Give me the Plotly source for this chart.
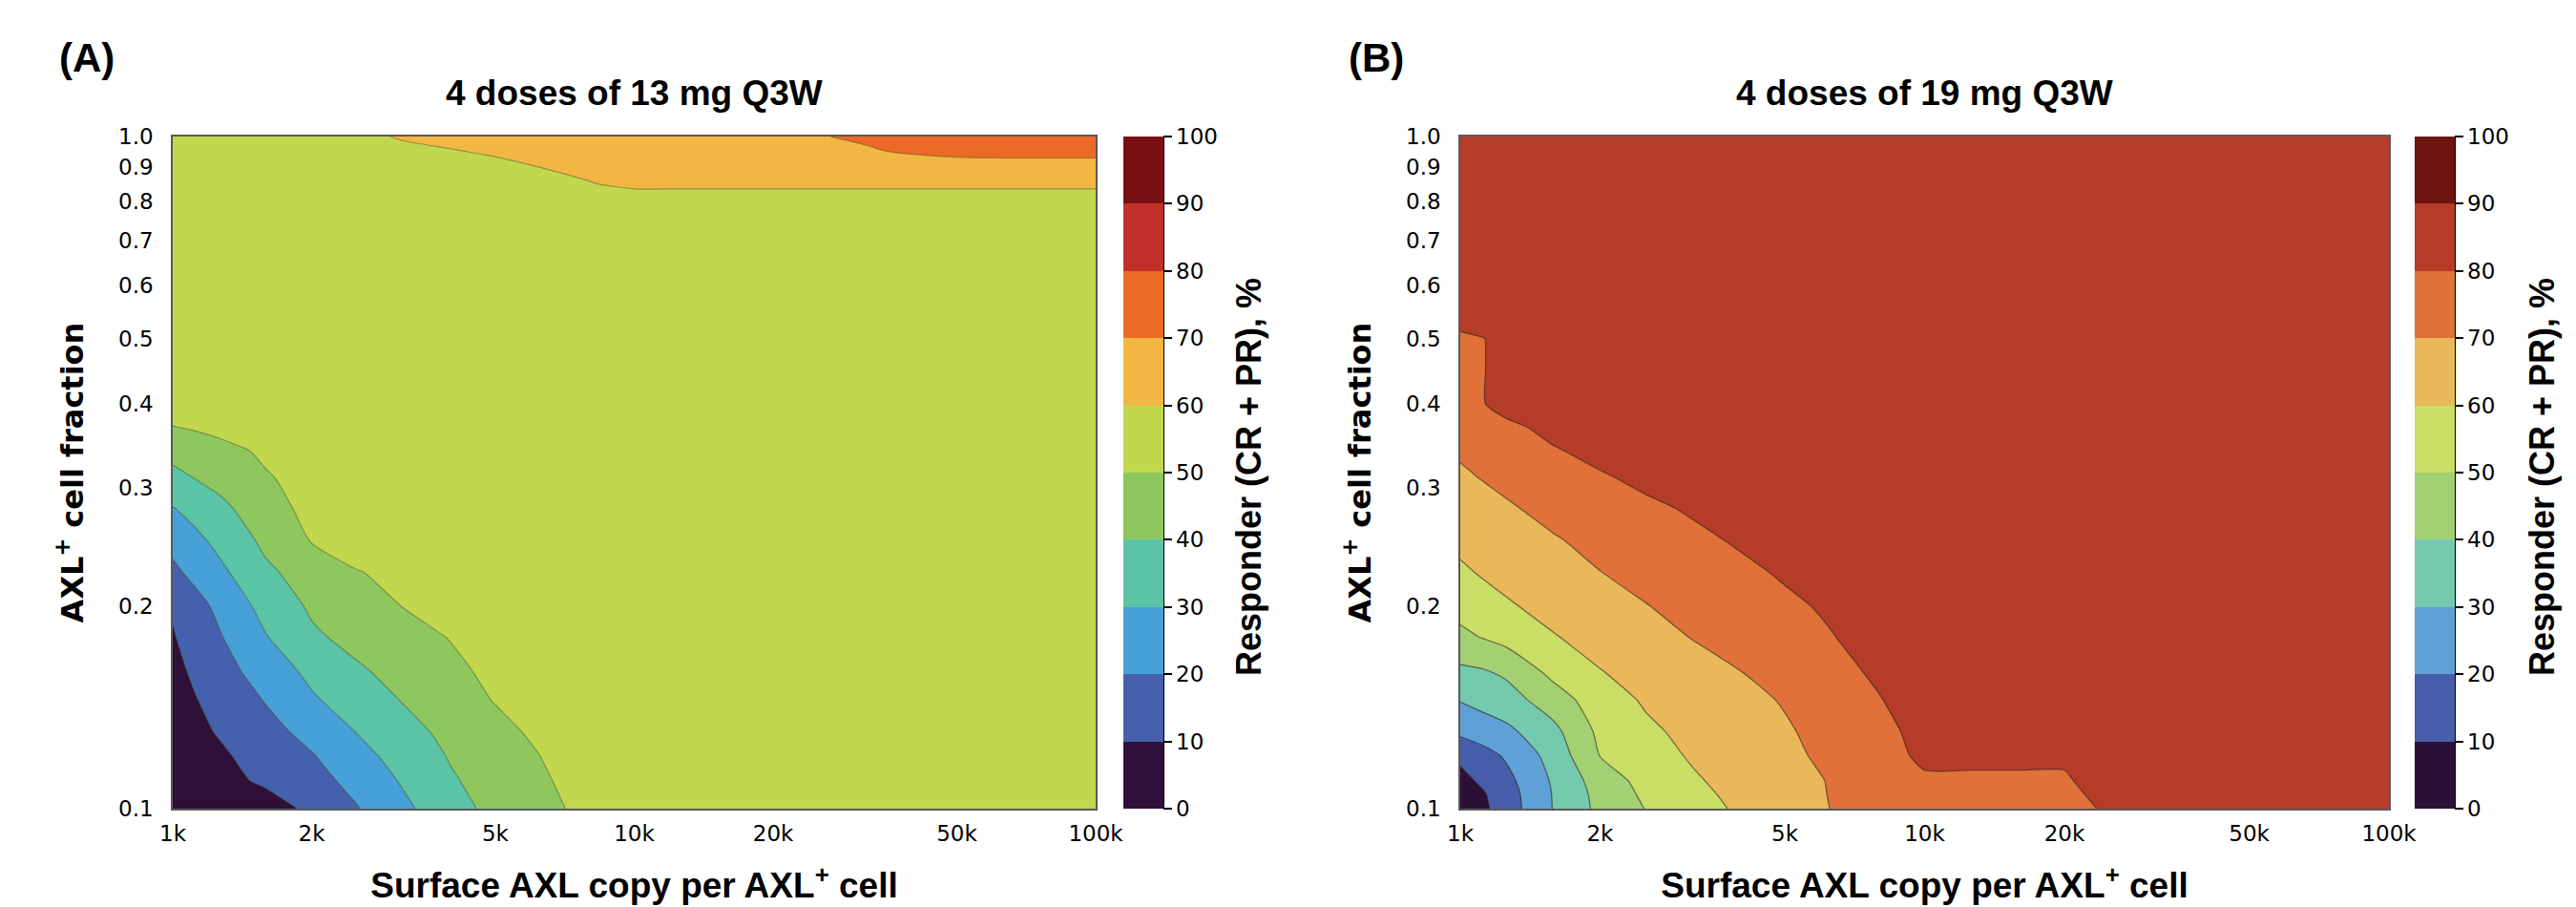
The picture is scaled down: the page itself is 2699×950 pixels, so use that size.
import plotly.graph_objects as go

# ---------------- data ----------------
copies = [1000, 1120, 1260, 1580, 2000, 2510, 3160, 3980, 5010, 6310, 7940,
          10000, 12600, 15800, 20000, 25100, 31600, 39800, 50100, 63100, 100000]

frac_a = [0.1, 0.11, 0.12, 0.13, 0.145, 0.16, 0.18, 0.2, 0.225, 0.25, 0.28,
          0.31, 0.34, 0.37, 0.4, 0.8, 0.85, 0.9, 0.95, 1.0]
resp_a = [
    [1, 2, 3, 5.0, 12.2, 19.5, 27.8, 36.2, 42.7, 47.5, 52.4, 55, 55, 55, 55, 55, 55, 55, 55, 55, 55],
    [1.5, 4.0, 6.6, 11.6, 16.7, 22.8, 31.1, 38.8, 44.1, 48.9, 53.7, 55, 55, 55, 55, 55, 55, 55, 55, 55, 55],
    [3.1, 5.8, 8.5, 13.9, 19.4, 26.8, 34.0, 40.6, 45.4, 50.2, 54.5, 55, 55, 55, 55, 55, 55, 55, 55, 55, 55],
    [4.9, 7.8, 10.7, 16.5, 23.0, 30.3, 36.7, 42.4, 47.2, 52.1, 55, 55, 55, 55, 55, 55, 55, 55, 55, 55, 55],
    [6.1, 9.6, 13.2, 20.3, 28.7, 34.8, 40.5, 45.5, 50.5, 55, 55, 55, 55, 55, 55, 55, 55, 55, 55, 55, 55],
    [7.4, 11.6, 15.8, 24.3, 32.3, 38.6, 43.4, 47.8, 52.2, 55, 55, 55, 55, 55, 55, 55, 55, 55, 55, 55, 55],
    [9.3, 14.2, 19.1, 29.2, 38.4, 43.0, 46.7, 50.3, 54, 55, 55, 55, 55, 55, 55, 55, 55, 55, 55, 55, 55],
    [11.0, 16.6, 22.1, 33.0, 41.4, 45.7, 50.2, 53, 55, 55, 55, 55, 55, 55, 55, 55, 55, 55, 55, 55, 55],
    [17.9, 22.8, 27.7, 38.1, 44.3, 49.6, 52.5, 55, 55, 55, 55, 55, 55, 55, 55, 55, 55, 55, 55, 55, 55],
    [22.8, 27.6, 32.4, 41.8, 50.4, 55, 55, 55, 55, 55, 55, 55, 55, 55, 55, 55, 55, 55, 55, 55, 55],
    [29.6, 33.5, 37.5, 45.7, 52.9, 55, 55, 55, 55, 55, 55, 55, 55, 55, 55, 55, 55, 55, 55, 55, 55],
    [37.0, 40.2, 43.0, 49.1, 53, 55, 55, 55, 55, 55, 55, 55, 55, 55, 55, 55, 55, 55, 55, 55, 55],
    [43, 45.1, 47.1, 51.3, 54, 55, 55, 55, 55, 55, 55, 55, 55, 55, 55, 55, 55, 55, 55, 55, 55],
    [49.8, 51, 52.5, 54, 55, 55, 55, 55, 55, 55, 55, 55, 55, 55, 55, 55, 55, 55, 55, 55, 55],
    [55, 55, 55, 55, 55, 55, 55, 55, 55, 55, 55, 55, 55, 55, 55, 55, 55, 55, 55, 55, 55],
    [55, 55, 55, 55, 55, 55, 55, 55, 55, 55, 55, 55, 55, 55, 55, 55, 55, 55, 55, 55, 55],
    [55, 55, 55, 55, 55, 55, 55, 55, 56, 57.5, 59.5, 61.9, 61.9, 61.9, 61.9, 61.9, 61.9, 61.9, 61.9, 61.9, 61.9],
    [55.5, 55.5, 55.5, 55.5, 55.5, 55.5, 55.5, 56.5, 57.5, 60.1, 62, 63.5, 64, 64, 64, 64, 64, 64, 64, 64, 64],
    [55.5, 55.5, 55.5, 55.5, 55.5, 56, 57.5, 59.3, 61.3, 62.5, 63.5, 64.5, 65.5, 66, 66.5, 67, 68.8, 71.2, 73.5, 74.2, 74.2],
    [56, 56, 56, 56, 56, 57.5, 61, 63, 64.5, 65.5, 66.5, 67, 67.5, 68, 68.8, 69.5, 71.5, 73, 75, 76, 76],
]

frac_b = [0.1, 0.105, 0.11, 0.12, 0.13, 0.145, 0.16, 0.18, 0.2, 0.225, 0.25,
          0.28, 0.31, 0.34, 0.37, 0.4, 0.45, 0.5, 0.52, 0.6, 1.0]
resp_b = [
    [1.3, 8.2, 15.1, 30.1, 42.5, 50.3, 55.9, 61.3, 65.9, 70.2, 71.9, 73.6, 75.3, 77.1, 78.8, 80.5, 83, 85, 85, 85, 85],
    [3.5, 9.1, 15.7, 30.3, 43.2, 51.8, 57.4, 62.3, 66.6, 70.4, 72.1, 73.9, 75.7, 77.4, 79.2, 81.0, 83.5, 85, 85, 85, 85],
    [7.3, 11.7, 17.3, 31.0, 44.7, 53.3, 58.8, 63.2, 67.2, 70.5, 72.3, 78.5, 78.5, 78.5, 79.0, 84, 85, 85, 85, 85, 85],
    [12, 16.5, 21.4, 33.5, 50.3, 55.9, 61.0, 64.5, 68.1, 72.0, 75.6, 82.1, 82.1, 82.1, 81.4, 84, 85, 85, 85, 85, 85],
    [21.9, 24.8, 27.7, 36.9, 52.2, 58.2, 62.4, 65.7, 69.0, 73.1, 77.6, 82.5, 85, 85, 85, 85, 85, 85, 85, 85, 85],
    [30.5, 33.2, 35.8, 44.9, 55.4, 61.1, 64.2, 67.3, 70.7, 75.1, 79.5, 84, 85, 85, 85, 85, 85, 85, 85, 85, 85],
    [38.1, 39.2, 41.9, 52.7, 59.7, 63.2, 66.5, 69.8, 73.6, 77.4, 81.3, 85, 85, 85, 85, 85, 85, 85, 85, 85, 85],
    [47.7, 50.5, 53.5, 59.4, 63.2, 66.7, 70.3, 73.4, 76.5, 79.7, 83, 85, 85, 85, 85, 85, 85, 85, 85, 85, 85],
    [53.4, 56.2, 59.0, 62.8, 66.3, 69.7, 72.7, 75.6, 78.5, 81.2, 84, 85, 85, 85, 85, 85, 85, 85, 85, 85, 85],
    [58.5, 61.0, 62.8, 66.3, 69.9, 72.7, 75.4, 78.2, 81, 84, 85, 85, 85, 85, 85, 85, 85, 85, 85, 85, 85],
    [62.2, 64.0, 65.7, 69.2, 72.2, 75.1, 78.0, 80.8, 83.5, 85, 85, 85, 85, 85, 85, 85, 85, 85, 85, 85, 85],
    [65.6, 67.4, 69.1, 72.3, 75.3, 78.3, 81, 83.5, 85, 85, 85, 85, 85, 85, 85, 85, 85, 85, 85, 85, 85],
    [68.6, 70.3, 72.0, 75.5, 78.9, 82, 84.5, 85, 85, 85, 85, 85, 85, 85, 85, 85, 85, 85, 85, 85, 85],
    [71.0, 73.0, 75.1, 79.1, 82.5, 85, 85, 85, 85, 85, 85, 85, 85, 85, 85, 85, 85, 85, 85, 85, 85],
    [72.8, 75.4, 78.1, 82.5, 85, 85, 85, 85, 85, 85, 85, 85, 85, 85, 85, 85, 85, 85, 85, 85, 85],
    [74.5, 79.6, 83.5, 85, 85, 85, 85, 85, 85, 85, 85, 85, 85, 85, 85, 85, 85, 85, 85, 85, 85],
    [77.0, 79.6, 83.5, 85, 85, 85, 85, 85, 85, 85, 85, 85, 85, 85, 85, 85, 85, 85, 85, 85, 85],
    [79.3, 79.7, 83.5, 85, 85, 85, 85, 85, 85, 85, 85, 85, 85, 85, 85, 85, 85, 85, 85, 85, 85],
    [80.4, 82, 84, 85, 85, 85, 85, 85, 85, 85, 85, 85, 85, 85, 85, 85, 85, 85, 85, 85, 85],
    [85, 85, 85, 85, 85, 85, 85, 85, 85, 85, 85, 85, 85, 85, 85, 85, 85, 85, 85, 85, 85],
    [85, 85, 85, 85, 85, 85, 85, 85, 85, 85, 85, 85, 85, 85, 85, 85, 85, 85, 85, 85, 85],
]

x_tickvals = [1000, 2000, 5000, 10000, 20000, 50000, 100000]
x_ticktext = ["1k", "2k", "5k", "10k", "20k", "50k", "100k"]
y_tickvals = [0.1, 0.2, 0.3, 0.4, 0.5, 0.6, 0.7, 0.8, 0.9, 1.0]
y_ticktext = ["0.1", "0.2", "0.3", "0.4", "0.5", "0.6", "0.7", "0.8", "0.9", "1.0"]
cbar_ticks = [0, 10, 20, 30, 40, 50, 60, 70, 80, 90, 100]

colors_a = ["#2E1038", "#4560AC", "#48A0D8", "#5BC3A6", "#8DC75E",
            "#C1D84E", "#F2B742", "#EC6A26", "#C1312A", "#780F14"]
colors_b = ["#2B1137", "#465EAA", "#5FA1D6", "#75C9AE", "#A3D073",
            "#CADD65", "#E9B85A", "#DF7139", "#B43C28", "#6E1510"]

titles = ["4 doses of 13 mg Q3W", "4 doses of 19 mg Q3W"]
panel_labels = ["(A)", "(B)"]
x_title = "Surface AXL copy per AXL<sup>+</sup> cell"
y_title = "AXL<sup>+</sup> cell fraction"
cbar_title = "Responder (CR + PR), %"

# ---------------- layout geometry (page px; the page body adds an 8 px offset) ----------------
W, H = 2699, 950
OFF = 8
plot_top, plot_bot = 143, 847
plots_x = [(181, 1148), (1530, 2503)]
cbar_left = [1177, 2530]
cbar_thick = 42


def px_x(p):
    return (p - OFF) / W


def px_y(p):
    return 1 - (p - OFF) / H


def cscale(cols):
    n = len(cols)
    return [[i / (n - 1), c] for i, c in enumerate(cols)]


SANS = "Liberation Sans, Arial, sans-serif"
tick_font = dict(family="DejaVu Sans", size=23, color="black")
bold_font = dict(family=SANS, size=37, color="black", weight="bold")

fig = go.Figure()

panels = [(frac_a, resp_a, colors_a, "rgba(70,70,40,0.45)"),
          (frac_b, resp_b, colors_b, "rgba(40,30,30,0.6)")]

for i, (fr, z, cols, lcol) in enumerate(panels):
    xa = "x" if i == 0 else "x2"
    ya = "y" if i == 0 else "y2"
    fig.add_trace(go.Contour(
        x=copies, y=fr, z=z, xaxis=xa, yaxis=ya,
        autocontour=False,
        contours=dict(start=10, end=90, size=10, coloring="fill", showlines=False),
        colorscale=cscale(cols), zmin=0, zmax=100,
        line=dict(width=0, smoothing=0.6),
        hoverinfo="skip",
        colorbar=dict(
            x=px_x(cbar_left[i]), xanchor="left", xpad=0,
            y=(px_y(plot_top) + px_y(plot_bot)) / 2, yanchor="middle", ypad=0,
            len=(plot_bot - plot_top) / H, lenmode="fraction",
            thickness=cbar_thick, thicknessmode="pixels",
            outlinewidth=0,
            tickmode="array", tickvals=cbar_ticks,
            ticks="outside", ticklen=9, tickwidth=2, tickcolor="black",
            tickfont=tick_font,
        ),
    ))
    fig.add_trace(go.Contour(
        x=copies, y=fr, z=z, xaxis=xa, yaxis=ya,
        autocontour=False,
        contours=dict(start=10, end=90, size=10, coloring="none", showlines=True),
        line=dict(width=1.2, color=lcol, smoothing=0.6),
        showscale=False, hoverinfo="skip",
    ))

axis_common = dict(showgrid=False, zeroline=False, showline=True, mirror=True,
                   linecolor="#5a5a5a", linewidth=1.5, ticks="", tickfont=tick_font,
                   automargin=False)

xt = dict(text=x_title, font=bold_font, standoff=29)
yt = dict(text=y_title, font=dict(family="DejaVu Sans", size=32, color="black", weight="bold"),
          standoff=27)

ydom = [px_y(plot_bot), px_y(plot_top)]
fig.update_layout(
    width=W, height=H,
    margin=dict(l=0, r=0, t=0, b=0, autoexpand=False),
    paper_bgcolor="white", plot_bgcolor="white",
    showlegend=False,
    xaxis=dict(type="log", range=[3, 5], domain=[px_x(plots_x[0][0]), px_x(plots_x[0][1])],
               tickvals=x_tickvals, ticktext=x_ticktext, anchor="y", ticklabelstandoff=5,
               title=xt, **axis_common),
    yaxis=dict(type="log", range=[-1, 0], domain=ydom,
               tickvals=y_tickvals, ticktext=y_ticktext, anchor="x", ticklabelstandoff=14,
               title=yt, **axis_common),
    xaxis2=dict(type="log", range=[3, 5], domain=[px_x(plots_x[1][0]), px_x(plots_x[1][1])],
                tickvals=x_tickvals, ticktext=x_ticktext, anchor="y2", ticklabelstandoff=5,
                title=xt, **axis_common),
    yaxis2=dict(type="log", range=[-1, 0], domain=ydom,
                tickvals=y_tickvals, ticktext=y_ticktext, anchor="x2", ticklabelstandoff=14,
                title=yt, **axis_common),
)

annotations = []
shapes = []
label_x = [60, 1411]
cbtitle_x = [1308, 2663]
for i in range(2):
    x0, x1 = plots_x[i]
    cx = (x0 + x1) / 2
    annotations.append(dict(text=panel_labels[i], x=px_x(label_x[i]), y=px_y(60), xref="paper", yref="paper",
                            xanchor="left", yanchor="middle", showarrow=False,
                            font=dict(family=SANS, size=42, color="black", weight="bold")))
    annotations.append(dict(text=titles[i], x=px_x(cx), y=px_y(98), xref="paper", yref="paper",
                            xanchor="center", yanchor="middle", showarrow=False, font=bold_font))
    annotations.append(dict(text=cbar_title, x=px_x(cbtitle_x[i]), y=px_y(500),
                            xref="paper", yref="paper", xanchor="center", yanchor="middle", textangle=-90,
                            showarrow=False,
                            font=dict(family=SANS, size=36, color="black", weight="bold")))
    xr = px_x(cbar_left[i] + cbar_thick)
    shapes.append(dict(type="line", xref="paper", yref="paper", x0=xr, x1=xr,
                       y0=px_y(plot_bot), y1=px_y(plot_top), line=dict(color="black", width=2)))

fig.update_layout(annotations=annotations, shapes=shapes)

fig.write_html("out.html")
